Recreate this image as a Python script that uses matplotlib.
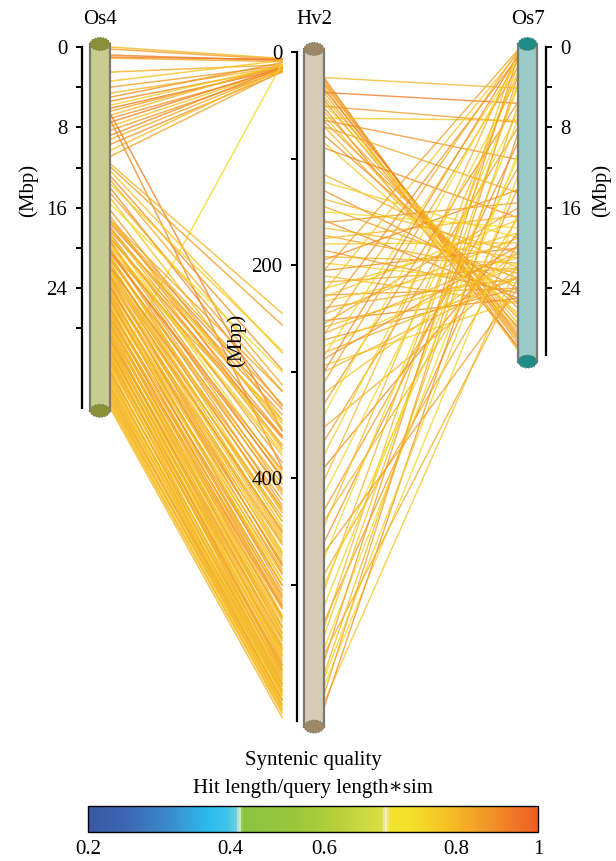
import numpy as np
import matplotlib
matplotlib.use('Agg')
import matplotlib.pyplot as plt
from matplotlib.colors import LinearSegmentedColormap, FuncNorm
from matplotlib.patches import Rectangle, Ellipse
import matplotlib.cm as cm

plt.rcParams['font.family'] = ['Liberation Serif', 'DejaVu Serif']

W, H = 616, 861

# chromosomes (Mbp)
chrom_names = ['Os4', 'Hv2', 'Os7']
chrom_len = [35.9, 630.0, 31.0]
axis_len = [35.9, 628.0, 30.6]
major_ticks = [[0, 8, 16, 24], [0, 200, 400], [0, 8, 16, 24]]
minor_ticks = [[4, 12, 20, 28], [100, 300, 500], [4, 12, 20]]

# Os4 -> Hv2 links
left_os4 = [0.0, 0.2, 0.8, 1.0, 1.1, 2.5, 3.4, 4.0, 4.6, 5.0, 5.4, 5.8, 6.1, 6.4, 6.8,
            7.1, 7.5, 7.9, 8.3, 8.8, 9.2, 9.7, 10.3, 10.9, 33.0,
            6.6, 7.2, 11.6, 11.9, 12.3, 12.8, 13.2, 13.6, 14.0, 14.5, 15.0, 15.6, 16.2, 16.8,
            17.2, 17.2, 17.6, 18.0, 18.3, 18.7, 19.0, 19.4, 19.8, 20.1, 20.5, 20.8, 21.2, 21.5,
            21.9, 22.2, 22.6, 22.9, 23.3, 23.6, 24.0, 24.3, 24.7, 25.0, 25.4, 25.7, 26.1, 26.4,
            26.8, 27.1, 27.5, 27.8, 28.2, 28.5, 28.9, 29.2, 29.6, 29.9, 30.3, 30.6, 31.0, 31.3,
            31.7, 32.0, 32.4, 32.7, 33.1, 33.4, 33.8, 34.1, 34.5, 34.8, 35.2, 35.5, 35.9,
            19.2, 20.3, 21.0, 22.0, 23.0, 23.9, 24.9, 25.9, 26.6, 27.3, 28.0, 28.7, 29.4, 30.1,
            30.9, 31.5, 32.2, 33.0, 33.6, 34.3, 35.0, 35.7,
            17.4, 17.9, 18.1, 18.5, 18.9, 19.3, 19.6, 20.0, 20.4, 20.7, 21.1, 21.4, 21.8, 22.1,
            22.4, 22.8, 23.1, 23.5, 23.8, 24.2, 24.5, 24.8, 25.2, 25.6, 26.0, 26.3, 26.7, 27.0,
            27.4, 27.7, 28.1, 28.4, 28.8, 29.1, 29.5, 29.8, 30.2, 30.5, 30.8, 31.2, 31.6, 32.1,
            32.6, 33.2, 33.9, 34.6, 35.3]
left_hv2 = [6, 7, 8, 7, 9, 12, 8, 13, 14, 10, 15, 13, 16, 14, 12,
            17, 15, 16, 18, 15, 17, 19, 16, 18, 11,
            355, 390, 245, 256, 282, 298, 312, 280, 332, 318, 345, 300, 355, 370,
            318, 352, 335, 372, 340, 395, 362, 410, 378, 425, 392, 440, 405, 452,
            420, 468, 436, 482, 448, 495, 462, 505, 478, 515, 490, 528, 500, 538,
            512, 548, 522, 556, 534, 565, 545, 572, 552, 580, 560, 586, 568, 592,
            575, 598, 582, 603, 588, 607, 594, 611, 600, 615, 607, 620, 624,
            345, 360, 430, 455, 470, 480, 500, 520, 530, 540, 545, 558, 565, 575,
            580, 588, 592, 598, 602, 608, 612, 618,
            330, 360, 348, 385, 368, 400, 375, 415, 398, 432, 412, 445, 428, 440,
            458, 450, 475, 460, 488, 472, 500, 485, 510, 495, 518, 508, 532, 520,
            544, 530, 552, 540, 562, 550, 570, 560, 578, 566, 584, 575, 590, 595,
            600, 604, 608, 613, 617]
left_q = [0.80, 0.86, 0.92, 0.94, 0.84, 0.82, 0.78, 0.85, 0.80, 0.88, 0.90, 0.76, 0.93, 0.85, 0.80,
          0.88, 0.92, 0.78, 0.86, 0.90, 0.83, 0.88, 0.79, 0.84, 0.74,
          0.92, 0.90, 0.80, 0.85, 0.78, 0.88, 0.82, 0.76, 0.90, 0.84, 0.79, 0.74, 0.86, 0.82,
          0.84, 0.78, 0.88, 0.80, 0.86, 0.76, 0.90, 0.82, 0.79, 0.85, 0.88, 0.77, 0.83, 0.80,
          0.86, 0.78, 0.84, 0.90, 0.80, 0.76, 0.82, 0.87, 0.79, 0.84, 0.81, 0.78, 0.86, 0.80,
          0.83, 0.77, 0.88, 0.81, 0.79, 0.84, 0.80, 0.86, 0.78, 0.82, 0.80, 0.85, 0.79, 0.83,
          0.80, 0.77, 0.84, 0.81, 0.79, 0.82, 0.80, 0.78, 0.83, 0.80, 0.79, 0.82, 0.81,
          0.80, 0.84, 0.78, 0.82, 0.80, 0.86, 0.79, 0.81, 0.83, 0.78, 0.80, 0.82, 0.79, 0.84,
          0.80, 0.78, 0.82, 0.80, 0.79, 0.81, 0.80, 0.78,
          0.82, 0.88, 0.79, 0.85, 0.80, 0.86, 0.78, 0.83, 0.90, 0.80, 0.84, 0.79, 0.87, 0.81,
          0.78, 0.85, 0.80, 0.83, 0.88, 0.79, 0.82, 0.80, 0.86, 0.78, 0.84, 0.81, 0.79, 0.85,
          0.80, 0.83, 0.78, 0.82, 0.80, 0.86, 0.79, 0.81, 0.84, 0.78, 0.80, 0.82, 0.79, 0.81,
          0.80, 0.78, 0.82, 0.80, 0.79]

# Hv2 -> Os7 links
right_hv2 = [24, 26, 28, 30, 32, 35, 38, 42, 45, 48, 52, 56, 60, 65, 70, 78, 85,
             24, 38, 51, 62, 64, 70, 90,
             115, 122, 130, 138, 145, 150, 158, 165, 172, 180, 186, 192, 198, 205, 210,
             216, 222, 228, 234, 240, 246, 252, 258, 264, 270, 276, 282, 288, 294, 300,
             160, 175, 195, 230, 255,
             205, 225, 245, 265, 285, 300,
             310, 320, 330, 340, 352, 365, 378, 390, 402, 415, 430, 445, 460, 475, 490, 505,
             520, 535, 548, 560, 572, 584, 595, 603, 610, 615, 588, 565, 540, 500, 470, 440]
right_os7 = [30.0, 29.5, 29.2, 28.8, 30.2, 28.0, 29.0, 27.5, 28.5, 26.8, 29.8, 27.0, 28.2, 26.0,
             27.8, 25.5, 26.5,
             4.1, 5.6, 7.5, 7.3, 11.2, 14.5, 17.0,
             22.0, 19.0, 24.0, 20.5, 23.0, 18.0, 25.0, 21.0, 22.5, 19.5, 24.5, 21.5, 23.5, 20.0,
             25.5, 22.0, 18.5, 24.0, 21.0, 23.0, 19.0, 25.0, 22.0, 20.5, 24.0, 21.5, 23.0, 19.8,
             25.2, 22.8,
             15.5, 16.8, 14.2, 17.2, 16.0,
             0.3, 0.6, 1.0, 0.4, 1.5, 0.8,
             2.0, 20.5, 5.5, 1.2, 22.0, 8.0, 3.0, 18.5, 0.6, 6.5, 12.0, 2.5, 9.5, 4.0, 19.5, 1.8,
             7.2, 14.0, 3.6, 10.5, 0.9, 5.8, 16.5, 2.8, 21.5, 8.6, 12.8, 23.0, 0.2, 11.0, 24.0, 17.0]
right_q = [0.90, 0.86, 0.82, 0.88, 0.79, 0.92, 0.84, 0.80, 0.87, 0.76, 0.90, 0.83, 0.78, 0.86,
           0.81, 0.88, 0.77,
           0.80, 0.93, 0.86, 0.78, 0.88, 0.84, 0.90,
           0.82, 0.76, 0.88, 0.80, 0.85, 0.74, 0.90, 0.79, 0.84, 0.77, 0.86, 0.81, 0.75, 0.89,
           0.80, 0.83, 0.78, 0.87, 0.76, 0.84, 0.80, 0.90, 0.79, 0.82, 0.86, 0.75, 0.83, 0.88,
           0.78, 0.81,
           0.86, 0.80, 0.90, 0.77, 0.84,
           0.85, 0.78, 0.88, 0.82, 0.76, 0.90,
           0.84, 0.78, 0.88, 0.74, 0.82, 0.86, 0.76, 0.90, 0.80, 0.75, 0.85, 0.79, 0.88, 0.74,
           0.83, 0.80, 0.76, 0.87, 0.78, 0.74, 0.86, 0.80, 0.75, 0.84, 0.78, 0.88, 0.76, 0.82,
           0.79, 0.74, 0.86, 0.80]

# colour bar
cb_ticks = [0.2, 0.4, 0.6, 0.8, 1.0]
cb_ticklabels = ['0.2', '0.4', '0.6', '0.8', '1']
cb_tickpos = [0.0, 0.316, 0.524, 0.818, 1.0]   # where the labels sit along the bar

cmap = LinearSegmentedColormap.from_list('syn', [
    (0.00, '#3a58a6'), (0.08, '#3c66b2'), (0.18, '#3a8ccc'), (0.27, '#2cbcee'),
    (0.31, '#40c4e8'), (0.33, '#70cedc'), (0.336, '#e6efe6'), (0.342, '#8ac440'),
    (0.45, '#98c63c'), (0.55, '#b4d03a'), (0.655, '#dade44'), (0.662, '#f6f2cc'),
    (0.669, '#f0e42c'), (0.72, '#f4e02a'), (0.80, '#f6c024'), (0.88, '#f39a28'),
    (1.00, '#ee5e24')])
norm = FuncNorm((lambda v: np.interp(v, cb_ticks, cb_tickpos),
                 lambda f: np.interp(f, cb_tickpos, cb_ticks)), vmin=0.2, vmax=1.0)

# layout (pixels)
bar_x = [100, 314, 527.5]
bar_w = [20, 20, 19]
axis_x = [82, 297, 546]
y0 = [47, 52, 47]
px_per = [10.05, 1.066, 10.05]
body_col = ['#c9cc8f', '#d6ccb6', '#99cbc8']
cap_col = ['#8b9038', '#9b8866', '#1f8c88']
fs = 15


def ypix(i, m):
    return y0[i] + px_per[i] * np.asarray(m)


fig = plt.figure(figsize=(W / 100, H / 100), dpi=100)
ax = fig.add_axes([0, 0, 1, 1])
ax.set_xlim(0, W)
ax.set_ylim(H, 0)
ax.axis('off')

# links
for a, b, q in zip(left_os4, left_hv2, left_q):
    ax.plot([bar_x[0] + bar_w[0] / 2, 282], [ypix(0, a), ypix(1, b)],
            color=cmap(norm(q)), lw=1.1, alpha=0.8, zorder=1)
for a, b, q in zip(right_hv2, right_os7, right_q):
    ax.plot([bar_x[1] + bar_w[1] / 2, bar_x[2] - bar_w[2] / 2], [ypix(1, a), ypix(2, b)],
            color=cmap(norm(q)), lw=1.0, alpha=0.8, zorder=1)

# chromosome bars
for i in range(3):
    top, bot = ypix(i, 0) - 3, ypix(i, chrom_len[i]) + 3
    for yc in (top, bot):
        ax.add_patch(Ellipse((bar_x[i], yc), bar_w[i], 13, facecolor=cap_col[i],
                             edgecolor='#777766', lw=0.8, ls=':', zorder=3))
    ax.add_patch(Rectangle((bar_x[i] - bar_w[i] / 2, top), bar_w[i], bot - top,
                           facecolor=body_col[i], edgecolor='#7a7a72', lw=1.6, zorder=2))
    ax.text(bar_x[i], 19, chrom_names[i], ha='center', va='center', fontsize=fs)

ax.text(28, 190, '(Mbp)', rotation=90, ha='center', va='center', fontsize=fs)
ax.text(236, 340, '(Mbp)', rotation=90, ha='center', va='center', fontsize=fs)
ax.text(601, 190, '(Mbp)', rotation=90, ha='center', va='center', fontsize=fs)

# scale axes
for i in range(3):
    top = y0[i]
    bot = ypix(i, axis_len[i])
    sa = fig.add_axes([axis_x[i] / W, 1 - bot / H, 0.002, (bot - top) / H])
    sa.set_ylim(axis_len[i], 0)
    sa.patch.set_visible(False)
    sa.set_xticks([])
    side = 'right' if i == 2 else 'left'
    for s in ['top', 'bottom', 'left', 'right']:
        sa.spines[s].set_visible(s == side)
    sa.spines[side].set_linewidth(1.6)
    if side == 'right':
        sa.spines[side].set_position(('axes', 0))
        sa.yaxis.tick_right()
    sa.set_yticks(major_ticks[i], [str(t) for t in major_ticks[i]])
    sa.set_yticks(minor_ticks[i], minor=True)
    sa.tick_params(axis='y', which='both', length=4.5, width=1.4, direction='out',
                   labelsize=fs, pad=6)

# colour bar
cax = fig.add_axes([88 / W, 1 - 832 / H, 450 / W, 26 / H])
cb = fig.colorbar(cm.ScalarMappable(norm=norm, cmap=cmap), cax=cax, orientation='horizontal')
cb.set_ticks(cb_ticks, labels=cb_ticklabels)
cb.ax.tick_params(length=0, labelsize=fs, pad=6)
cb.outline.set_linewidth(1.0)
ax.text(313, 760, 'Syntenic quality', ha='center', va='center', fontsize=fs)
ax.text(313, 788, 'Hit length/query length\u2217sim', ha='center', va='center', fontsize=fs)

fig.savefig('out.png', dpi=100)
